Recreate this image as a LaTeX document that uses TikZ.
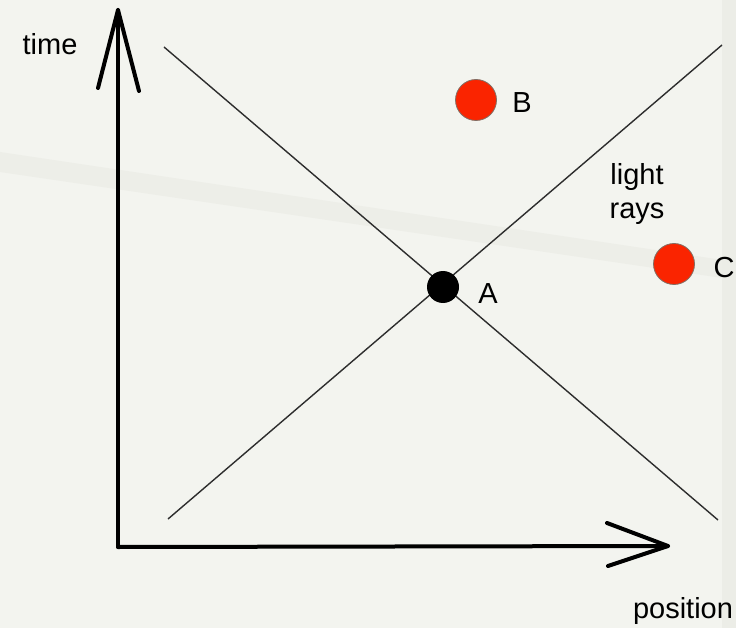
\documentclass[tikz,border=0pt]{standalone}
\usepackage{fontspec}
\setmainfont{Liberation Sans}
\definecolor{bgcol}{RGB}{243,244,239}
\definecolor{streak}{RGB}{237,238,232}
\definecolor{edge}{RGB}{236,237,231}
\definecolor{raycol}{RGB}{45,45,45}
\definecolor{ptred}{RGB}{250,36,0}
\definecolor{ptrim}{RGB}{130,110,100}
\begin{document}
\begin{tikzpicture}[x=1pt,y=-1pt,
  lbl/.style={anchor=base,inner sep=0pt,font=\fontsize{29}{32}\selectfont,text=black},
  axis/.style={line width=4pt,line cap=round,line join=round,black},
  ray/.style={line width=1.4pt,draw=raycol},
  redpt/.style={circle,minimum size=41pt,inner sep=0pt,fill=ptred,draw=ptrim,line width=0.8pt},
  blackpt/.style={circle,minimum size=32pt,inner sep=0pt,fill=black}]
\fill[bgcol] (0,0) rectangle (736,628);
\useasboundingbox (0,0) rectangle (736,628);
% faint background streaks
\fill[streak] (0,152) -- (736,262) -- (736,280) -- (0,172) -- cycle;
\fill[edge] (722,0) rectangle (736,628);
% coordinates
\coordinate (O) at (118,547);
\coordinate (Ytip) at (118,10);
\coordinate (Xtip) at (668,546);
\coordinate (R1s) at (164,47);
\coordinate (R1e) at (718,520);
\coordinate (R2s) at (168,519);
\coordinate (R2e) at (722,45);
% light rays
\draw[ray] (R1s) -- (R1e);
\draw[ray] (R2s) -- (R2e);
% axes
\draw[axis] (O) -- (Ytip);
\draw[axis] (98,88) -- (Ytip) -- (139,91);
\draw[axis] (O) -- (Xtip);
\draw[axis] (607,523) -- (Xtip) -- (608,566);
% events
\node[blackpt] (A) at (443,287) {};
\node[redpt] (B) at (476,100) {};
\node[redpt] (C) at (674,264) {};
% labels
\node[lbl] (tA) at (488,303) {A};
\node[lbl] (tB) at (522,113) {B};
\node[lbl] (tC) at (724,278) {C};
\node[lbl] (tlight) at (637,185) {light};
\node[lbl] (trays) at (637,219) {rays};
\node[lbl] (ttime) at (50,55) {time};
\node[lbl] (tpos) at (683,618) {position};
\end{tikzpicture}
\end{document}
